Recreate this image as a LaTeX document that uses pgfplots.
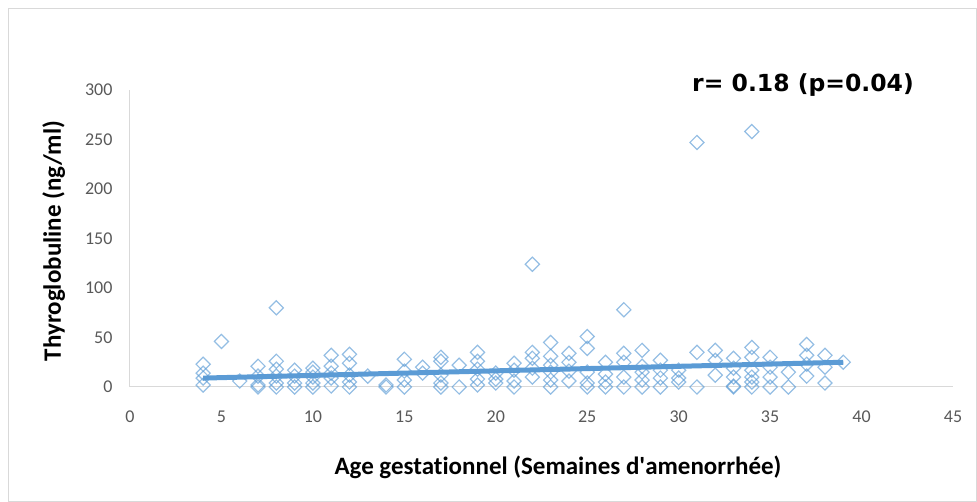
\documentclass[border=0pt]{standalone}
\usepackage{fontspec}
\setmainfont{Carlito}[Ligatures={TeX,NoCommon}]
\newfontfamily\rfont{DejaVu Sans}
\usepackage{pgfplots}
\pgfplotsset{compat=1.18}
\usepackage{pgfplotstable}
\definecolor{xlblue}{HTML}{5B9BD5}
\definecolor{axgray}{HTML}{D9D9D9}
\definecolor{tkgray}{HTML}{595959}

\pgfplotstableread{
x y
4 23
4 14
4 9
4 2
5 46
6 6
7 21
7 11
7 2
7 0
8 80
8 26
8 18
8 11
8 4
8 0
9 17
9 11
9 4
9 0
10 19
10 15
10 10
10 4
10 0
11 32
11 21
11 14
11 9
11 1
12 33
12 24
12 12
12 5
12 0
13 11
14 2
14 0
15 28
15 16
15 7
15 0
16 20
16 14
17 30
17 26
17 12
17 4
17 0
18 22
18 0
19 35
19 26
19 18
19 8
19 2
20 14
20 8
20 4
21 24
21 17
21 6
21 0
22 124
22 35
22 29
22 19
22 10
23 45
23 31
23 22
23 15
23 7
23 0
24 34
24 25
24 16
24 6
25 51
25 39
25 15
25 4
25 0
26 25
26 13
26 5
26 0
27 78
27 34
27 25
27 10
27 0
28 37
28 21
28 15
28 7
28 0
29 27
29 17
29 9
29 0
30 17
30 9
30 5
31 247
31 35
31 0
32 37
32 27
32 12
33 29
33 19
33 10
33 1
33 0
34 258
34 40
34 30
34 17
34 10
34 5
34 0
35 30
35 20
35 10
35 0
36 15
36 0
37 43
37 32
37 23
37 11
38 32
38 20
38 4
39 25
}\thyro

\begin{document}
\begin{tikzpicture}
\useasboundingbox (-130pt,-115pt) rectangle (847pt,387pt);
\draw[axgray, line width=0.8pt] (-122pt,-114pt) rectangle (846pt,379pt);
\begin{axis}[
  at={(0pt,0pt)}, anchor=south west,
  scale only axis,
  width=823pt, height=297pt,
  xmin=0, xmax=45, ymin=0, ymax=300,
  xtick={0,5,...,45},
  ytick={0,50,...,300},
  axis lines=left,
  axis line style={axgray, line width=1pt, -},
  major tick length=0pt,
  tick label style={font=\fontsize{18}{20}\selectfont, text=tkgray},
  xticklabel style={yshift=-20pt},
  yticklabel style={xshift=-14pt},
  /pgf/number format/assume math mode=true,
  clip=false,
]
\addplot[only marks, mark=square, mark size=5pt,
  mark options={rotate=45, draw=xlblue, draw opacity=0.65, line width=1.2pt, fill=none}]
  table[x=x, y=y] {\thyro};
\addplot[xlblue, line width=5pt, no marks] coordinates {(4,9) (39,25)};
\end{axis}
\node[anchor=base, font=\bfseries\fontsize{25}{28}\selectfont] at (428pt,-88pt) {Age gestationnel (Semaines d\textquotesingle amenorrhée)};
\node[anchor=base, rotate=90, font=\bfseries\fontsize{25}{28}\selectfont] at (-69pt,146pt) {Thyroglobuline (ng/ml)};
\node[anchor=base, font=\rfont\bfseries\fontsize{23.5}{26}\selectfont] at (673pt,295pt) {r= 0.18 (p=0.04)};
\end{tikzpicture}
\end{document}
